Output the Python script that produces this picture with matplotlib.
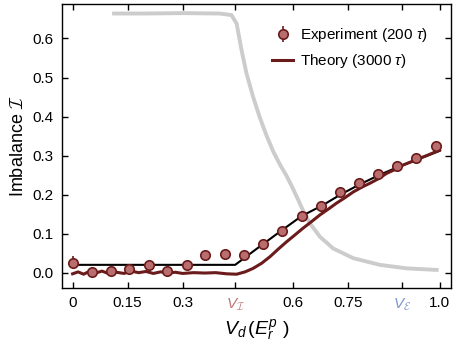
import numpy as np
import matplotlib
matplotlib.use("Agg")
import matplotlib.pyplot as plt

plt.rcParams['font.family'] = ['Liberation Sans', 'DejaVu Sans']
plt.rcParams['mathtext.fontset'] = 'custom'
plt.rcParams['mathtext.rm'] = 'Liberation Sans'
plt.rcParams['mathtext.it'] = 'Liberation Sans:italic'
plt.rcParams['mathtext.cal'] = 'cmsy10'

# experiment (200 tau)
exp_x = [0.0, 0.052, 0.104, 0.155, 0.207, 0.258, 0.311, 0.362, 0.415, 0.467,
         0.519, 0.571, 0.624, 0.677, 0.728, 0.780, 0.833, 0.884, 0.937, 0.990]
exp_y = [0.026, 0.002, 0.003, 0.010, 0.019, 0.003, 0.019, 0.045, 0.047, 0.044,
         0.073, 0.107, 0.145, 0.171, 0.207, 0.229, 0.254, 0.273, 0.295, 0.325]
exp_err = [0.016, 0.006, 0.007, 0.007, 0.010, 0.006, 0.008, 0.010, 0.010, 0.008,
           0.008, 0.007, 0.008, 0.008, 0.008, 0.008, 0.010, 0.008, 0.008, 0.008]

# fit line (black)
fit_x = [0.0, 0.443, 0.5, 0.565, 0.624, 0.68, 0.73, 0.78, 0.835, 0.885, 0.94, 1.0]
fit_y = [0.020, 0.020, 0.060, 0.105, 0.145, 0.172, 0.200, 0.225, 0.250, 0.270, 0.290, 0.312]

# theory (3000 tau)
th_x = [0.0, 0.015, 0.03, 0.045, 0.06, 0.08, 0.10, 0.12, 0.14, 0.16, 0.18, 0.20,
        0.22, 0.24, 0.26, 0.28, 0.30, 0.33, 0.36, 0.39, 0.42, 0.447, 0.47,
        0.492, 0.515, 0.538, 0.56, 0.583, 0.605, 0.628, 0.65, 0.674, 0.70,
        0.719, 0.742, 0.765, 0.79, 0.81, 0.832, 0.855, 0.88, 0.901, 0.925,
        0.946, 0.97, 1.0]
th_y = [-0.003, 0.002, -0.004, 0.003, -0.002, 0.004, -0.003, 0.001, -0.002, 0.004,
        0.000, 0.003, -0.002, 0.002, -0.001, 0.001, -0.002, 0.000, -0.001, 0.000,
        -0.003, -0.004, 0.002, 0.011, 0.024, 0.041, 0.060, 0.079, 0.096, 0.114,
        0.130, 0.148, 0.165, 0.178, 0.192, 0.207, 0.220, 0.229, 0.240, 0.254,
        0.265, 0.276, 0.285, 0.293, 0.302, 0.314]

# gray curve
gr_x = [0.113, 0.2, 0.3, 0.4, 0.433, 0.447, 0.46, 0.474, 0.492, 0.51, 0.529,
        0.547, 0.565, 0.583, 0.597, 0.615, 0.63, 0.647, 0.674, 0.71, 0.765,
        0.837, 0.91, 0.992]
gr_y = [0.664, 0.664, 0.665, 0.664, 0.660, 0.638, 0.572, 0.510, 0.450, 0.398,
        0.350, 0.310, 0.277, 0.248, 0.222, 0.186, 0.155, 0.126, 0.092, 0.062,
        0.037, 0.020, 0.011, 0.007]

xticks = [0, 0.15, 0.3, 0.443, 0.6, 0.75, 0.897, 1.0]
xticklabels = ['0', '0.15', '0.3', r'$V_{\mathcal{I}}$', '0.6', '0.75', r'$V_{\mathcal{E}}$', '1.0']
yticks = [0.0, 0.1, 0.2, 0.3, 0.4, 0.5, 0.6]

dark = '#6b1b1b'
face = '#b86e6e'

fig = plt.figure(figsize=(4.56, 3.46), dpi=100)
ax = fig.add_axes([0.135, 0.168, 0.854, 0.82])

ax.plot(gr_x, gr_y, color='#cccccc', lw=2.8, zorder=1)
ax.plot(fit_x, fit_y, color='black', lw=1.5, zorder=2)
ax.plot(th_x, th_y, color=dark, lw=2.2, zorder=3, label=r'Theory (3000 $\tau$)')
ax.errorbar(exp_x, exp_y, yerr=exp_err, fmt='o', ms=6.8, mfc=face, mec=dark, mew=1.2,
            ecolor=dark, elinewidth=1.2, capsize=0, zorder=4,
            label=r'Experiment (200 $\tau$)')

ax.set_xlim(-0.03, 1.031)
ax.set_ylim(-0.039, 0.688)
ax.set_xticks(xticks)
ax.set_xticklabels(xticklabels)
ax.get_xticklabels()[3].set_color('#c07878')
ax.get_xticklabels()[6].set_color('#7f97cf')
ax.set_yticks(yticks)
ax.set_yticklabels(['%.1f' % v for v in yticks])
ax.tick_params(direction='in', top=True, right=True, length=4, width=1, labelsize=11, pad=6)
for s in ax.spines.values():
    s.set_linewidth(1.0)

ax.set_xlabel(r'$V_d\,(E_r^p\ )$', fontsize=14, labelpad=3)
ax.set_ylabel(r'Imbalance $\mathcal{I}$', fontsize=13, labelpad=4)

h, l = ax.get_legend_handles_labels()
ax.legend(h[::-1], l[::-1], loc='upper right', frameon=False, fontsize=11,
          bbox_to_anchor=(0.975, 0.97), handlelength=1.4, handletextpad=0.4)

plt.savefig('out.png', dpi=100)
